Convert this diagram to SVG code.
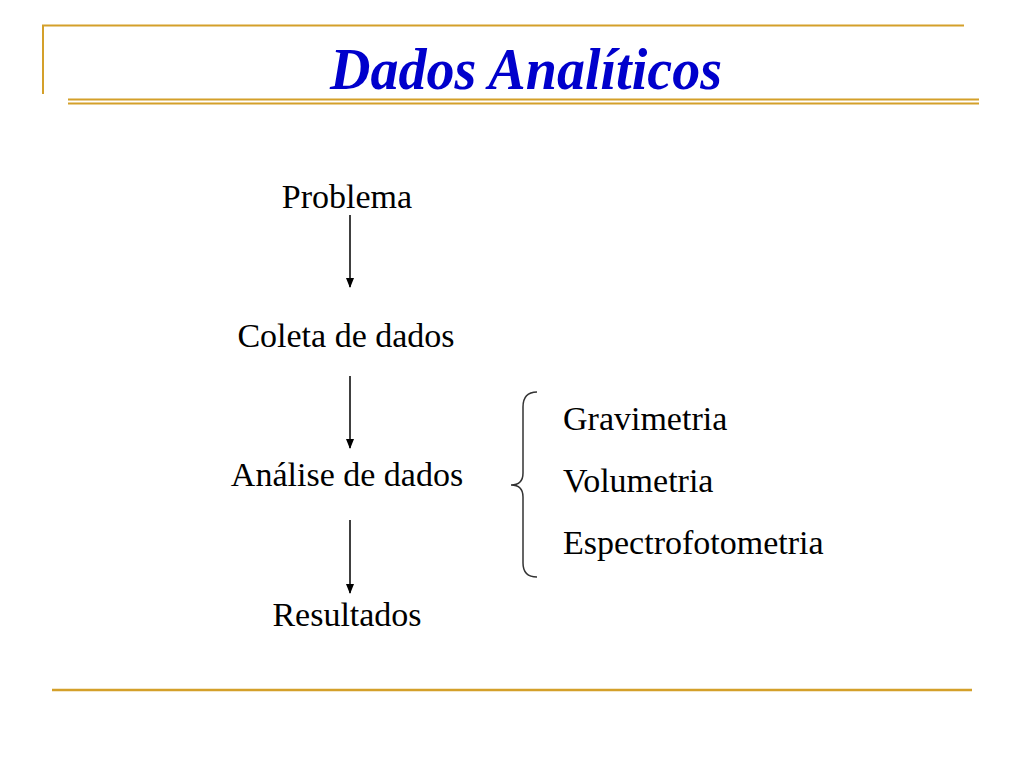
<svg xmlns="http://www.w3.org/2000/svg" width="1024" height="768" viewBox="0 0 1024 768">
<style>
.gold{stroke:#D4A02A;fill:none}
.t{font-family:"Liberation Serif","Times New Roman",serif;font-size:34px;fill:#000}
.conn{stroke:#000;stroke-width:1.5;fill:none}
</style>
<defs>
<marker id="ah" markerWidth="10" markerHeight="10" refX="9" refY="5" orient="auto" markerUnits="userSpaceOnUse">
<path d="M0,1 L10,5 L0,9 Z" fill="#000"/>
</marker>
</defs>
<rect width="1024" height="768" fill="#fff"/>
<g id="frame">
<line class="gold" x1="42" y1="25.5" x2="964" y2="25.5" stroke-width="2"/>
<line class="gold" x1="43" y1="25" x2="43" y2="94" stroke-width="2"/>
<line class="gold" x1="68" y1="99.5" x2="979" y2="99.5" stroke-width="2"/>
<line class="gold" x1="68" y1="103.5" x2="979" y2="103.5" stroke-width="2"/>
<line class="gold" x1="52" y1="690" x2="972" y2="690" stroke-width="2.5"/>
</g>
<text id="title" x="526" y="89" text-anchor="middle" font-family="'Liberation Serif','Times New Roman',serif" font-size="56" font-weight="bold" font-style="italic" fill="#0000CC" textLength="392" lengthAdjust="spacingAndGlyphs" transform="translate(0,-4.45) scale(1,1.05)">Dados Analíticos</text>
<g id="problema"><text class="t" x="347" y="208" text-anchor="middle">Problema</text></g>
<g id="coleta"><text class="t" x="346" y="347" text-anchor="middle">Coleta de dados</text></g>
<g id="analise"><text class="t" x="347" y="486" text-anchor="middle">Análise de dados</text></g>
<g id="resultados"><text class="t" x="347" y="626" text-anchor="middle">Resultados</text></g>
<g id="metodos">
<text class="t" x="563" y="430">Gravimetria</text>
<text class="t" x="563" y="492">Volumetria</text>
<text class="t" x="563" y="554">Espectrofotometria</text>
</g>
<g id="connectors">
<line class="conn" x1="350" y1="215" x2="350" y2="287" marker-end="url(#ah)"/>
<line class="conn" x1="350" y1="376" x2="350" y2="448" marker-end="url(#ah)"/>
<line class="conn" x1="350" y1="520" x2="350" y2="593" marker-end="url(#ah)"/>
<path d="M537,392 Q523,392 523,407 L523,473 Q523,485 511,485 Q523,485 523,497 L523,563 Q523,577 537,577" stroke="#333" stroke-width="1.5" fill="none"/>
</g>
</svg>
